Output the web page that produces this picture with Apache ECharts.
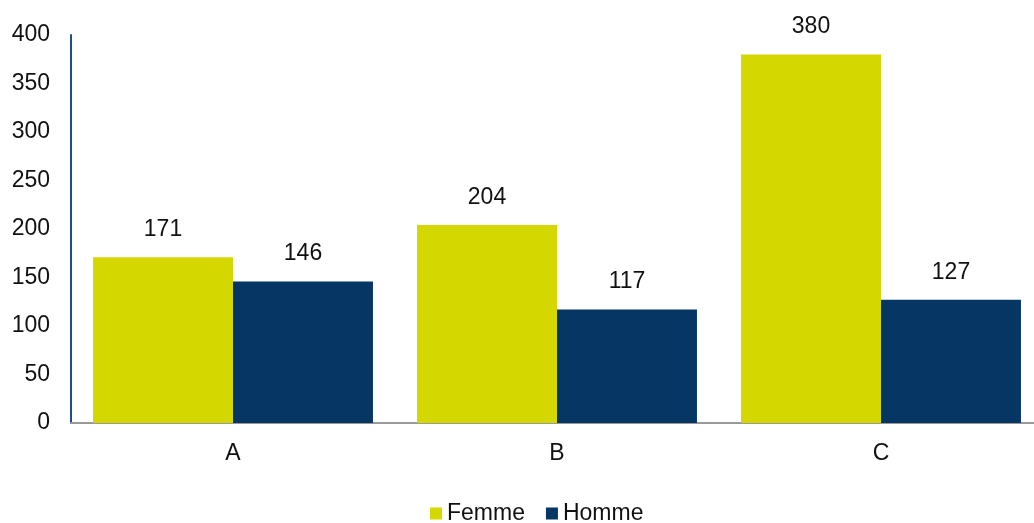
<!DOCTYPE html>
<html><head><meta charset="utf-8">
<script src="https://cdn.jsdelivr.net/npm/echarts@6/dist/echarts.min.js"></script>
<style>html,body{margin:0;padding:0;background:#fff;overflow:hidden;width:1034px;height:523px}#c{width:1043px;height:523px}</style>
</head><body><div id="c"></div>
<script>
var categories = ['A', 'B', 'C'];
var femme = [171, 204, 380];
var homme = [146, 117, 127];
var yTicks = [0, 400, 50];

var chart = echarts.init(document.getElementById('c'));
var font = 'Liberation Sans, Arial, sans-serif';
chart.setOption({
  animation: false,
  backgroundColor: '#fff',
  textStyle: {fontFamily: font},
  legend: {
    data: ['Femme', 'Homme'],
    top: 497,
    left: 425,
    itemWidth: 12, itemHeight: 12, itemGap: 21,
    icon: 'rect',
    textStyle: {fontSize: 23, color: '#111', fontFamily: font}
  },
  grid: {left: 71, top: 35, right: 0, height: 388, containLabel: false},
  xAxis: {
    type: 'category',
    data: categories,
    axisLine: {lineStyle: {color: '#999', width: 2}},
    axisTick: {show: false},
    axisLabel: {fontSize: 23, color: '#111', margin: 19, fontFamily: font}
  },
  yAxis: {
    type: 'value',
    min: yTicks[0], max: yTicks[1], interval: yTicks[2],
    axisLine: {show: true, lineStyle: {color: '#1f4e85', width: 2}},
    axisTick: {show: false},
    splitLine: {show: false},
    axisLabel: {fontSize: 23, color: '#111', margin: 21, fontFamily: font}
  },
  series: [
    {name: 'Femme', type: 'bar', data: femme, barGap: '0%', barCategoryGap: '13.6%',
     itemStyle: {color: '#d4d700'},
     label: {show: true, position: 'top', distance: 16, fontSize: 23, color: '#111', fontFamily: font}},
    {name: 'Homme', type: 'bar', data: homme, barGap: '0%', barCategoryGap: '13.6%',
     itemStyle: {color: '#063764'},
     label: {show: true, position: 'top', distance: 16, fontSize: 23, color: '#111', fontFamily: font}}
  ]
});
</script></body></html>
